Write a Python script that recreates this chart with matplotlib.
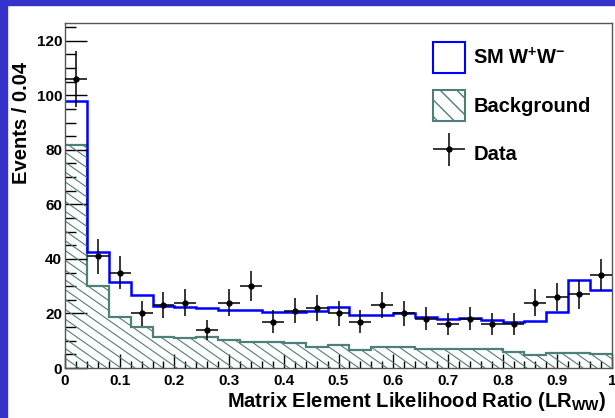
import numpy as np
import matplotlib.pyplot as plt
from matplotlib.patches import Patch, Rectangle
from matplotlib.collections import LineCollection
from matplotlib.legend_handler import HandlerErrorbar

plt.rcParams['font.family'] = ['Liberation Sans', 'DejaVu Sans']
plt.rcParams['font.weight'] = 'bold'
plt.rcParams['mathtext.fontset'] = 'custom'
plt.rcParams['mathtext.rm'] = 'Liberation Sans:bold'
plt.rcParams['mathtext.bf'] = 'Liberation Sans:bold'

# bin edges (width 0.04)
edges = np.linspace(0, 1, 26)
# SM W+W- + background (stacked total)
sm_total = [98, 42.7, 31.7, 26.8, 22.7, 22.3, 22.1, 21.3, 21.3, 20.4, 20.4, 21.0, 22.3,
            19.4, 19.4, 20.3, 18.6, 18.0, 18.2, 17.6, 16.9, 17.4, 20.7, 32.3, 28.6]
# background only
bkg = [81.6, 30, 18.6, 15.2, 11.5, 10.9, 11.5, 10.3, 9.7, 9.4, 9.2, 7.6, 8.4,
       6.6, 7.6, 7.6, 7.0, 7.0, 7.0, 7.0, 6.0, 4.6, 5.4, 5.4, 5.0]
# data counts
data = [106, 41, 35, 20, 23, 24, 14, 24, 30, 17, 21, 22, 20,
        17, 23, 20, 18, 16, 18, 16, 16, 24, 26, 27, 34]
xticklabels = ['0', '0.1', '0.2', '0.3', '0.4', '0.5', '0.6', '0.7', '0.8', '0.9', '1']

teal = '#4f7f7a'
centers = 0.5 * (edges[1:] + edges[:-1])
halfw = 0.5 * (edges[1] - edges[0])

fig = plt.figure(figsize=(6.15, 4.18), dpi=100)
fig.patch.set_facecolor('white')
fig.add_artist(Rectangle((0, 0), 7 / 615, 1, transform=fig.transFigure, color='#3333cc', zorder=10))
fig.add_artist(Rectangle((0, 1 - 5 / 418), 1, 5 / 418, transform=fig.transFigure, color='#3333cc', zorder=10))

W, H = 547, 345
ax = fig.add_axes([65 / 615, 50 / 418, W / 615, H / 418])

# background: fill used as clip path for the hatching
fill = ax.stairs(bkg, edges, baseline=0, fill=True, facecolor='none', edgecolor='none')
ang = np.deg2rad(35)
run = (H / np.tan(ang)) / W
x0 = np.arange(-run, 1.0, 14 / W)
segs = [[(x, 1), (x + run, 0)] for x in x0]
hatch = LineCollection(segs, colors=teal, linewidths=0.8, transform=ax.transAxes)
ax.add_collection(hatch)
hatch.set_clip_path(fill)
ax.stairs(bkg, edges, baseline=None, color=teal, lw=1.6)

ax.stairs(sm_total, edges, baseline=None, color='#0000ff', lw=1.8)

eb = ax.errorbar(centers, data, xerr=halfw, yerr=np.sqrt(data), fmt='o', color='black',
                 ms=3.5, elinewidth=1.1, capsize=0, zorder=5)

ax.set_xlim(0, 1)
ax.set_ylim(0, 126.5)
ax.set_xticks(np.arange(0, 1.01, 0.1))
ax.set_xticklabels(xticklabels)
ax.set_xticks(np.arange(0, 1.001, 0.02), minor=True)
ax.set_yticks(np.arange(0, 121, 20))
ax.set_yticks(np.arange(0, 126, 5), minor=True)
ax.tick_params(axis='x', which='major', direction='in', length=10, width=1, labelsize=11, pad=4, top=False)
ax.tick_params(axis='x', which='minor', direction='in', length=5, width=1, top=False)
ax.tick_params(axis='y', which='major', direction='in', length=16, width=1, labelsize=11, pad=2, right=False)
ax.tick_params(axis='y', which='minor', direction='in', length=8, width=1, right=False)
for lab in ax.get_xticklabels() + ax.get_yticklabels():
    lab.set_fontweight('bold')
for s in ax.spines.values():
    s.set_color('#555555')
    s.set_linewidth(1)

ax.set_ylabel('Events / 0.04', fontsize=14.5, fontweight='bold')
ax.yaxis.set_label_coords(-0.062, 0.71)
ax.set_xlabel(r'Matrix Element Likelihood Ratio (LR$_{\mathbf{WW}}$)', fontsize=14.5,
              fontweight='bold', loc='right')
ax.xaxis.set_label_coords(0.99, -0.064)

plt.rcParams['hatch.color'] = teal
h_sm = Patch(facecolor='white', edgecolor='#0000ff', lw=1.5)
h_bkg = Patch(facecolor='white', edgecolor=teal, lw=1.5, hatch='\\\\')
leg = ax.legend([h_sm, h_bkg, eb], [r'SM W$^{\mathbf{+}}$W$^{\mathbf{-}}$', 'Background', 'Data'],
                loc='upper left', bbox_to_anchor=(433 / 615, 1 - 42 / 418),
                bbox_transform=fig.transFigure, frameon=False, borderpad=0, borderaxespad=0,
                handlelength=1.6, handleheight=2.0, labelspacing=0.85, handletextpad=0.4,
                prop={'size': 14.5, 'weight': 'bold'},
                handler_map={type(eb): HandlerErrorbar(xerr_size=0.8)})

fig.savefig('out.png', dpi=100)
